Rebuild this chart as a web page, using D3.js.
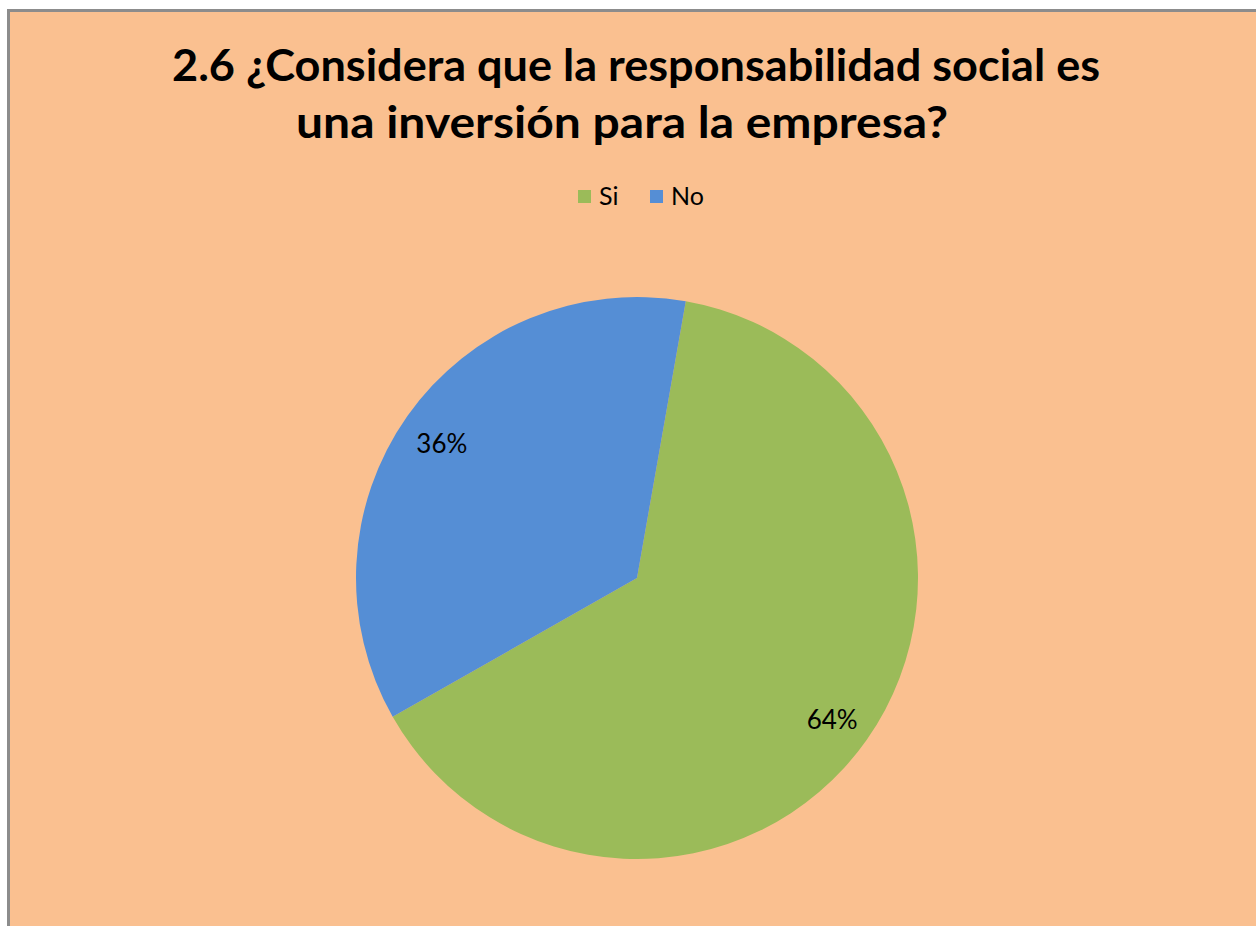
<!DOCTYPE html>
<html>
<head>
<meta charset="utf-8">
<script src="https://cdn.jsdelivr.net/npm/d3@7"></script>
<style>
  html, body { margin: 0; padding: 0; background: #ffffff; }
  svg { display: block; }
</style>
</head>
<body>
<svg id="chart" width="1256" height="926"></svg>
<script>
// ==============================
// DATA
// ==============================
const categories = ["Si", "No"];
const values = [64, 36];
const labels = ["64%", "36%"];
const colors = ["#9BBB59", "#558ED5"];
const titleLines = [
  "2.6 ¿Considera que la responsabilidad social es",
  "una inversión para la empresa?"
];

// ==============================
// SETUP
// ==============================
const width = 1256, height = 926;
const font = "Lato, 'Open Sans', sans-serif";
const svg = d3.select("#chart");

// chart area with grey border
svg.append("rect")
  .attr("x", 8.5).attr("y", 10.5)
  .attr("width", width + 10).attr("height", height + 10)
  .attr("fill", "#FAC090")
  .attr("stroke", "#8c8c8c")
  .attr("stroke-width", 3);

// title
const titleX = [636, 622];
const titleY = [81, 138];
const titleW = [928, 652];
svg.selectAll(".title")
  .data(titleLines)
  .enter().append("text")
  .attr("class", "title")
  .attr("x", (d, i) => titleX[i])
  .attr("y", (d, i) => titleY[i])
  .attr("text-anchor", "middle")
  .attr("textLength", (d, i) => titleW[i])
  .attr("lengthAdjust", "spacingAndGlyphs")
  .style("font-family", font)
  .style("font-weight", "bold")
  .style("font-size", "44px")
  .attr("fill", "#000")
  .text(d => d);

// legend
const legendX = [578, 650];
const legend = svg.selectAll(".legend")
  .data(categories)
  .enter().append("g")
  .attr("class", "legend")
  .attr("transform", (d, i) => `translate(${legendX[i]},190)`);
legend.append("rect")
  .attr("width", 13).attr("height", 13)
  .attr("fill", (d, i) => colors[i]);
legend.append("text")
  .attr("x", 21).attr("y", 15)
  .style("font-family", font)
  .style("font-size", "25px")
  .attr("fill", "#000")
  .text(d => d);

// ==============================
// PIE
// ==============================
const cx = 637, cy = 578, r = 281;
const startDeg = 10;
const pie = d3.pie().sort(null)
  .startAngle(startDeg * Math.PI / 180)
  .endAngle((startDeg + 360) * Math.PI / 180);
const arcs = pie(values);
const arc = d3.arc().innerRadius(0).outerRadius(r);
const labelArc = d3.arc().innerRadius(r * 0.85).outerRadius(r * 0.85);

const g = svg.append("g").attr("transform", `translate(${cx},${cy})`);
g.selectAll("path")
  .data(arcs)
  .enter().append("path")
  .attr("d", arc)
  .attr("fill", (d, i) => colors[i]);

g.selectAll(".lbl")
  .data(arcs)
  .enter().append("text")
  .attr("class", "lbl")
  .attr("transform", d => `translate(${labelArc.centroid(d)})`)
  .attr("text-anchor", "middle")
  .attr("dy", "0.5em")
  .style("font-family", font)
  .style("font-size", "26px")
  .attr("fill", "#000")
  .text((d, i) => labels[i]);
</script>
</body>
</html>
